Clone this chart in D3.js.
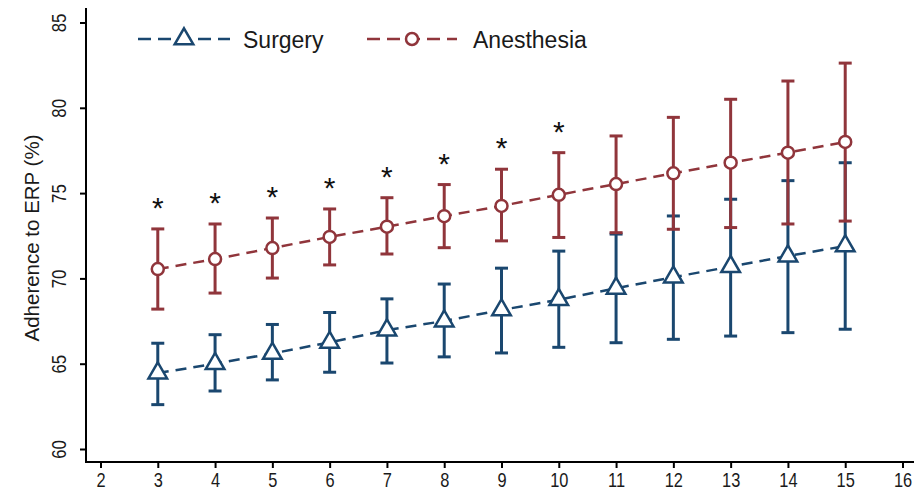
<!DOCTYPE html>
<html>
<head>
<meta charset="utf-8">
<script src="https://cdn.jsdelivr.net/npm/d3@7"></script>
<style>
  html, body { margin: 0; padding: 0; background: #fff; }
  svg { display: block; font-family: "Liberation Sans", Arial, sans-serif; }
</style>
</head>
<body>
<svg id="chart" width="914" height="492"></svg>
<script>
// Time points (x axis)
const timePoints = [3, 4, 5, 6, 7, 8, 9, 10, 11, 12, 13, 14, 15];

// Surgery: mean adherence and 95% CI
const surgeryMean  = [64.45, 65.0, 65.6, 66.25, 66.97, 67.5, 68.15, 68.75, 69.42, 70.07, 70.69, 71.31, 71.9];
const surgeryLower = [62.6, 63.4, 64.05, 64.5, 65.04, 65.4, 65.63, 65.96, 66.23, 66.43, 66.62, 66.82, 67.02];
const surgeryUpper = [66.2, 66.7, 67.3, 68.0, 68.8, 69.67, 70.6, 71.6, 72.6, 73.66, 74.64, 75.73, 76.78];

// Anesthesia: mean adherence and 95% CI
const anesthesiaMean  = [70.55, 71.13, 71.78, 72.43, 73.03, 73.65, 74.25, 74.9, 75.53, 76.16, 76.78, 77.37, 78.0];
const anesthesiaLower = [68.2, 69.14, 70.02, 70.79, 71.43, 71.8, 72.2, 72.4, 72.68, 72.88, 72.98, 73.19, 73.36];
const anesthesiaUpper = [72.9, 73.19, 73.54, 74.07, 74.73, 75.5, 76.4, 77.37, 78.35, 79.44, 80.5, 81.57, 82.62];

// Significant between-group difference at each time point
const significant = [true, true, true, true, true, true, true, true, false, false, false, false, false];

// Axis ticks
const xTicks = [2, 3, 4, 5, 6, 7, 8, 9, 10, 11, 12, 13, 14, 15, 16];
const yTicks = [60, 65, 70, 75, 80, 85];

const navy = "#1a476f";
const maroon = "#90353b";

const svg = d3.select("#chart");

const x = d3.scaleLinear().domain([2, 16]).range([100.5, 902.5]);
const y = d3.scaleLinear().domain([60, 85]).range([449, 22.5]);

const axisX = 86, axisY = 462;

// Axes (condensed tick label glyphs)
const gx = svg.append("g")
  .attr("transform", `translate(0,${axisY})`)
  .call(d3.axisBottom(x).tickValues(xTicks).tickFormat(d3.format("d")).tickSize(6).tickSizeOuter(0));
gx.select(".domain").remove();
gx.selectAll(".tick line").attr("stroke", "#000").attr("stroke-width", 2);
gx.selectAll(".tick text")
  .attr("y", 25).attr("dy", null)
  .attr("transform", "scale(0.82,1)")
  .attr("font-size", 20).attr("fill", "#1a1a1a")
  .attr("font-family", "Liberation Sans, Arial, sans-serif");

const gy = svg.append("g")
  .attr("transform", `translate(${axisX},0)`)
  .call(d3.axisLeft(y).tickValues(yTicks).tickFormat(d3.format("d")).tickSize(6).tickSizeOuter(0));
gy.select(".domain").remove();
gy.selectAll(".tick line").attr("stroke", "#000").attr("stroke-width", 2);
gy.selectAll(".tick text")
  .attr("x", null).attr("dy", null)
  .attr("text-anchor", "middle")
  .attr("transform", "translate(-20,0) rotate(-90) scale(0.8,1)")
  .attr("font-size", 21).attr("fill", "#1a1a1a")
  .attr("font-family", "Liberation Sans, Arial, sans-serif");

// Axis lines
svg.append("line")
  .attr("x1", axisX).attr("x2", axisX).attr("y1", 8).attr("y2", axisY + 1)
  .attr("stroke", "#000").attr("stroke-width", 2);
svg.append("line")
  .attr("x1", axisX - 1).attr("x2", 914).attr("y1", axisY).attr("y2", axisY)
  .attr("stroke", "#000").attr("stroke-width", 2);

// Y axis title
svg.append("text")
  .attr("transform", "translate(39,238) rotate(-90)")
  .attr("text-anchor", "middle")
  .attr("font-size", 20.5)
  .attr("fill", "#1a1a1a")
  .text("Adherence to ERP (%)");

const triangle = d3.symbol().type(d3.symbolTriangle).size(150);

function drawSeries(mean, lower, upper, color, marker) {
  const g = svg.append("g");
  const rows = timePoints.map((t, i) => ({ t, m: mean[i], lo: lower[i], hi: upper[i] }));

  // Confidence interval whiskers and caps
  g.selectAll(".ci").data(rows).join("line")
    .attr("x1", d => x(d.t)).attr("x2", d => x(d.t))
    .attr("y1", d => y(d.lo)).attr("y2", d => y(d.hi))
    .attr("stroke", color).attr("stroke-width", 3);
  ["lo", "hi"].forEach(k => {
    g.selectAll(".cap-" + k).data(rows).join("line")
      .attr("x1", d => x(d.t) - 6.5).attr("x2", d => x(d.t) + 6.5)
      .attr("y1", d => y(d[k])).attr("y2", d => y(d[k]))
      .attr("stroke", color).attr("stroke-width", 3);
  });

  // Dashed connecting line
  g.append("path")
    .datum(rows)
    .attr("d", d3.line().x(d => x(d.t)).y(d => y(d.m)))
    .attr("fill", "none").attr("stroke", color).attr("stroke-width", 2.5)
    .attr("stroke-dasharray", "11,7");

  // Hollow markers
  if (marker === "circle") {
    g.selectAll(".mk").data(rows).join("circle")
      .attr("cx", d => x(d.t)).attr("cy", d => y(d.m)).attr("r", 6)
      .attr("fill", "#fff").attr("stroke", color).attr("stroke-width", 2.5);
  } else {
    g.selectAll(".mk").data(rows).join("path")
      .attr("d", triangle)
      .attr("transform", d => `translate(${x(d.t)},${y(d.m)})`)
      .attr("fill", "#fff").attr("stroke", color).attr("stroke-width", 2.5);
  }
}

drawSeries(surgeryMean, surgeryLower, surgeryUpper, navy, "triangle");
drawSeries(anesthesiaMean, anesthesiaLower, anesthesiaUpper, maroon, "circle");

// Significance stars above the anesthesia upper limit
svg.append("g").selectAll("text")
  .data(timePoints.map((t, i) => ({ t, hi: anesthesiaUpper[i], s: significant[i] })).filter(d => d.s))
  .join("text")
  .attr("x", d => x(d.t))
  .attr("y", d => y(d.hi) - 11)
  .attr("text-anchor", "middle")
  .attr("font-size", 30)
  .attr("fill", "#111")
  .text("*");

// Legend
const legend = svg.append("g");
const legendItems = [
  { label: "Surgery", color: navy, marker: "triangle", x0: 138, x1: 230, tx: 243 },
  { label: "Anesthesia", color: maroon, marker: "circle", x0: 367, x1: 457, tx: 473 }
];
const ly = 39;
legendItems.forEach(it => {
  legend.append("line")
    .attr("x1", it.x0).attr("x2", it.x1).attr("y1", ly).attr("y2", ly)
    .attr("stroke", it.color).attr("stroke-width", 2.5).attr("stroke-dasharray", "13,7");
  const cx = (it.x0 + it.x1) / 2;
  if (it.marker === "circle") {
    legend.append("circle").attr("cx", cx).attr("cy", ly).attr("r", 6)
      .attr("fill", "#fff").attr("stroke", it.color).attr("stroke-width", 2.5);
  } else {
    legend.append("path").attr("d", triangle).attr("transform", `translate(${cx},${ly})`)
      .attr("fill", "#fff").attr("stroke", it.color).attr("stroke-width", 2.5);
  }
  legend.append("text")
    .attr("x", it.tx).attr("y", ly + 9)
    .attr("font-size", 23).attr("fill", "#1a1a1a")
    .text(it.label);
});
</script>
</body>
</html>
